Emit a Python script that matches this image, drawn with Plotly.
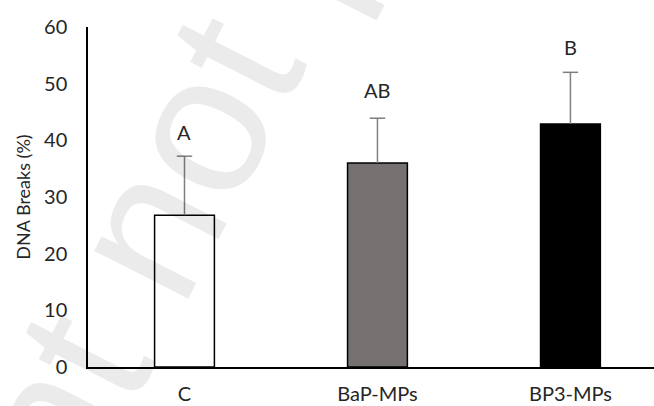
import plotly.graph_objects as go

categories = ["C", "BaP-MPs", "BP3-MPs"]
means = [26.8, 36.0, 42.9]
errors = [10.4, 7.9, 9.1]
letters = ["A", "AB", "B"]
letter_y = [41.5, 48.9, 56.4]
bar_colors = ["#ffffff", "#767171", "#000000"]
y_ticks = [0, 10, 20, 30, 40, 50, 60]

FONT = "Lato"
TXT = "#262626"
FS = 20

err_tops = [m + e for m, e in zip(means, errors)]

fig = go.Figure()
fig.add_trace(go.Bar(
    x=categories, y=means, width=0.31,
    marker=dict(color=bar_colors, line=dict(color="#000000", width=1.5)),
    error_y=dict(type="data", array=errors, arrayminus=[0, 0, 0], symmetric=False,
                 color="#7f7f7f", thickness=1.5, width=0),
    showlegend=False,
))
# top caps of the error bars
fig.add_trace(go.Scatter(
    x=categories, y=err_tops, mode="markers",
    marker=dict(symbol="line-ew", size=11, line=dict(color="#7f7f7f", width=1.5)),
    showlegend=False, hoverinfo="skip",
))

for c, t, yv in zip(categories, letters, letter_y):
    fig.add_annotation(x=c, y=yv, text=t, showarrow=False,
                       font=dict(family=FONT, size=FS, color=TXT),
                       xanchor="center", yanchor="middle")

# faint diagonal watermark
fig.add_annotation(xref="paper", yref="paper", x=0.392, y=1.35,
                   text="Preprint not peer reviewed", showarrow=False,
                   textangle=-63, xanchor="center", yanchor="middle",
                   font=dict(family="Liberation Sans", size=200, color="rgba(0,0,0,0.08)"))

fig.update_layout(
    width=654, height=406,
    margin=dict(l=88, r=0, t=27, b=39),
    paper_bgcolor="white", plot_bgcolor="white",
    font=dict(family=FONT, size=FS, color=TXT),
    bargap=0.69,
    xaxis=dict(range=[-0.5, 2.433], showline=True, linecolor="#000000", linewidth=1.5,
               ticks="", showgrid=False, zeroline=False, ticklabelstandoff=8,
               automargin=False,
               tickfont=dict(family=FONT, size=FS, color=TXT)),
    yaxis=dict(range=[0, 60], tickvals=y_ticks, showline=True, linecolor="#000000",
               linewidth=1.5, ticks="", showgrid=False, zeroline=False,
               ticklabelstandoff=15, automargin=False,
               tickfont=dict(family=FONT, size=FS, color=TXT),
               title=dict(text="DNA Breaks (%)", standoff=9,
                          font=dict(family=FONT, size=18, color=TXT))),
)

fig.write_html("out.html")
